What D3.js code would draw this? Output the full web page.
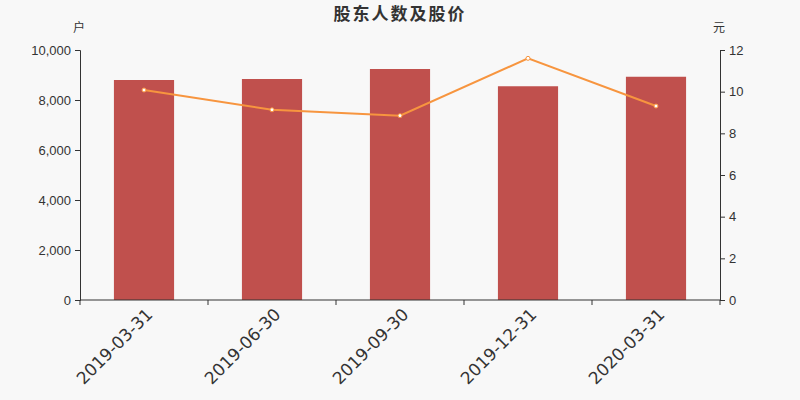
<!DOCTYPE html>
<html>
<head>
<meta charset="utf-8">
<script src="https://cdn.jsdelivr.net/npm/d3@7"></script>
<style>
  body { margin: 0; background: #f8f8f8; }
  svg { display: block; font-family: "DejaVu Sans", "Noto Sans CJK SC", sans-serif; }
  .axis path, .axis line { stroke: #333; }
  .axis text { fill: #333; font-size: 13px; }
  .axis text.lbl { font-size: 17px; }
</style>
</head>
<body>
<svg id="chart" width="800" height="400"></svg>
<script>
// Data
const dates   = ["2019-03-31", "2019-06-30", "2019-09-30", "2019-12-31", "2020-03-31"];
const holders = [8800, 8840, 9240, 8550, 8930];
const prices  = [10.08, 9.13, 8.85, 11.6, 9.31];
const leftTicks  = [0, 2000, 4000, 6000, 8000, 10000];
const rightTicks = [0, 2, 4, 6, 8, 10, 12];

const svg = d3.select("#chart");
const margin = { top: 50, right: 80, bottom: 100, left: 80 };
const width  = 800 - margin.left - margin.right;
const height = 400 - margin.top - margin.bottom;

svg.append("rect").attr("width", 800).attr("height", 400).attr("fill", "#f8f8f8");

// Title
svg.append("text")
    .attr("x", 400).attr("y", 20)
    .attr("text-anchor", "middle")
    .attr("font-size", "17px")
    .attr("font-weight", "bold")
    .attr("letter-spacing", "2px")
    .attr("fill", "#333")
    .text("股东人数及股价");

const g = svg.append("g").attr("transform", `translate(${margin.left},${margin.top})`);

// Scales
const x = d3.scaleBand().domain(dates).range([0, width]).paddingInner(0.53).paddingOuter(0.265);
const xc = d3.scalePoint().domain(dates).range([0, width]).padding(0.5);
const yL = d3.scaleLinear().domain([0, 10000]).range([height, 0]);
const yR = d3.scaleLinear().domain([0, 12]).range([height, 0]);

// Bars
g.selectAll(".bar")
  .data(holders)
  .enter()
  .append("rect")
    .attr("class", "bar")
    .attr("x", (d, i) => x(dates[i]))
    .attr("y", d => yL(d))
    .attr("width", x.bandwidth())
    .attr("height", d => height - yL(d))
    .attr("fill", "#c0504d");

// Line
const line = d3.line()
    .x((d, i) => xc(dates[i]))
    .y(d => yR(d));
g.append("path")
    .datum(prices)
    .attr("fill", "none")
    .attr("stroke", "#f7953f")
    .attr("stroke-width", 2)
    .attr("d", line);
g.selectAll(".dot")
  .data(prices)
  .enter()
  .append("circle")
    .attr("class", "dot")
    .attr("cx", (d, i) => xc(dates[i]))
    .attr("cy", d => yR(d))
    .attr("r", 2)
    .attr("fill", "#fff")
    .attr("stroke", "#f7953f")
    .attr("stroke-width", 1);

// Left axis
g.append("g")
    .attr("class", "axis")
    .call(d3.axisLeft(yL).tickValues(leftTicks).tickFormat(d3.format(",")).tickSize(5).tickPadding(4));

// Right axis
g.append("g")
    .attr("class", "axis")
    .attr("transform", `translate(${width},0)`)
    .call(d3.axisRight(yR).tickValues(rightTicks).tickSize(5).tickPadding(4));

// X axis: ticks on band boundaries
const xAxis = g.append("g")
    .attr("class", "axis")
    .attr("transform", `translate(0,${height})`);
xAxis.append("line").attr("x1", 0).attr("x2", width).attr("stroke", "#333");
const step = width / dates.length;
xAxis.selectAll(".tk")
  .data(d3.range(dates.length + 1))
  .enter()
  .append("line")
    .attr("x1", d => d * step).attr("x2", d => d * step)
    .attr("y1", 0).attr("y2", 5)
    .attr("stroke", "#333");
xAxis.selectAll(".lbl")
  .data(dates)
  .enter()
  .append("text")
    .attr("class", "lbl")
    .attr("transform", d => `translate(${xc(d) + 6},${12}) rotate(-45)`)
    .attr("text-anchor", "end")
    .attr("dominant-baseline", "middle")
    .text(d => d);

// Units
svg.append("text").attr("x", 79).attr("y", 32).attr("text-anchor", "middle")
    .attr("font-size", "12px").attr("fill", "#333").text("户");
svg.append("text").attr("x", 719).attr("y", 32).attr("text-anchor", "middle")
    .attr("font-size", "12px").attr("fill", "#333").text("元");
</script>
</body>
</html>
